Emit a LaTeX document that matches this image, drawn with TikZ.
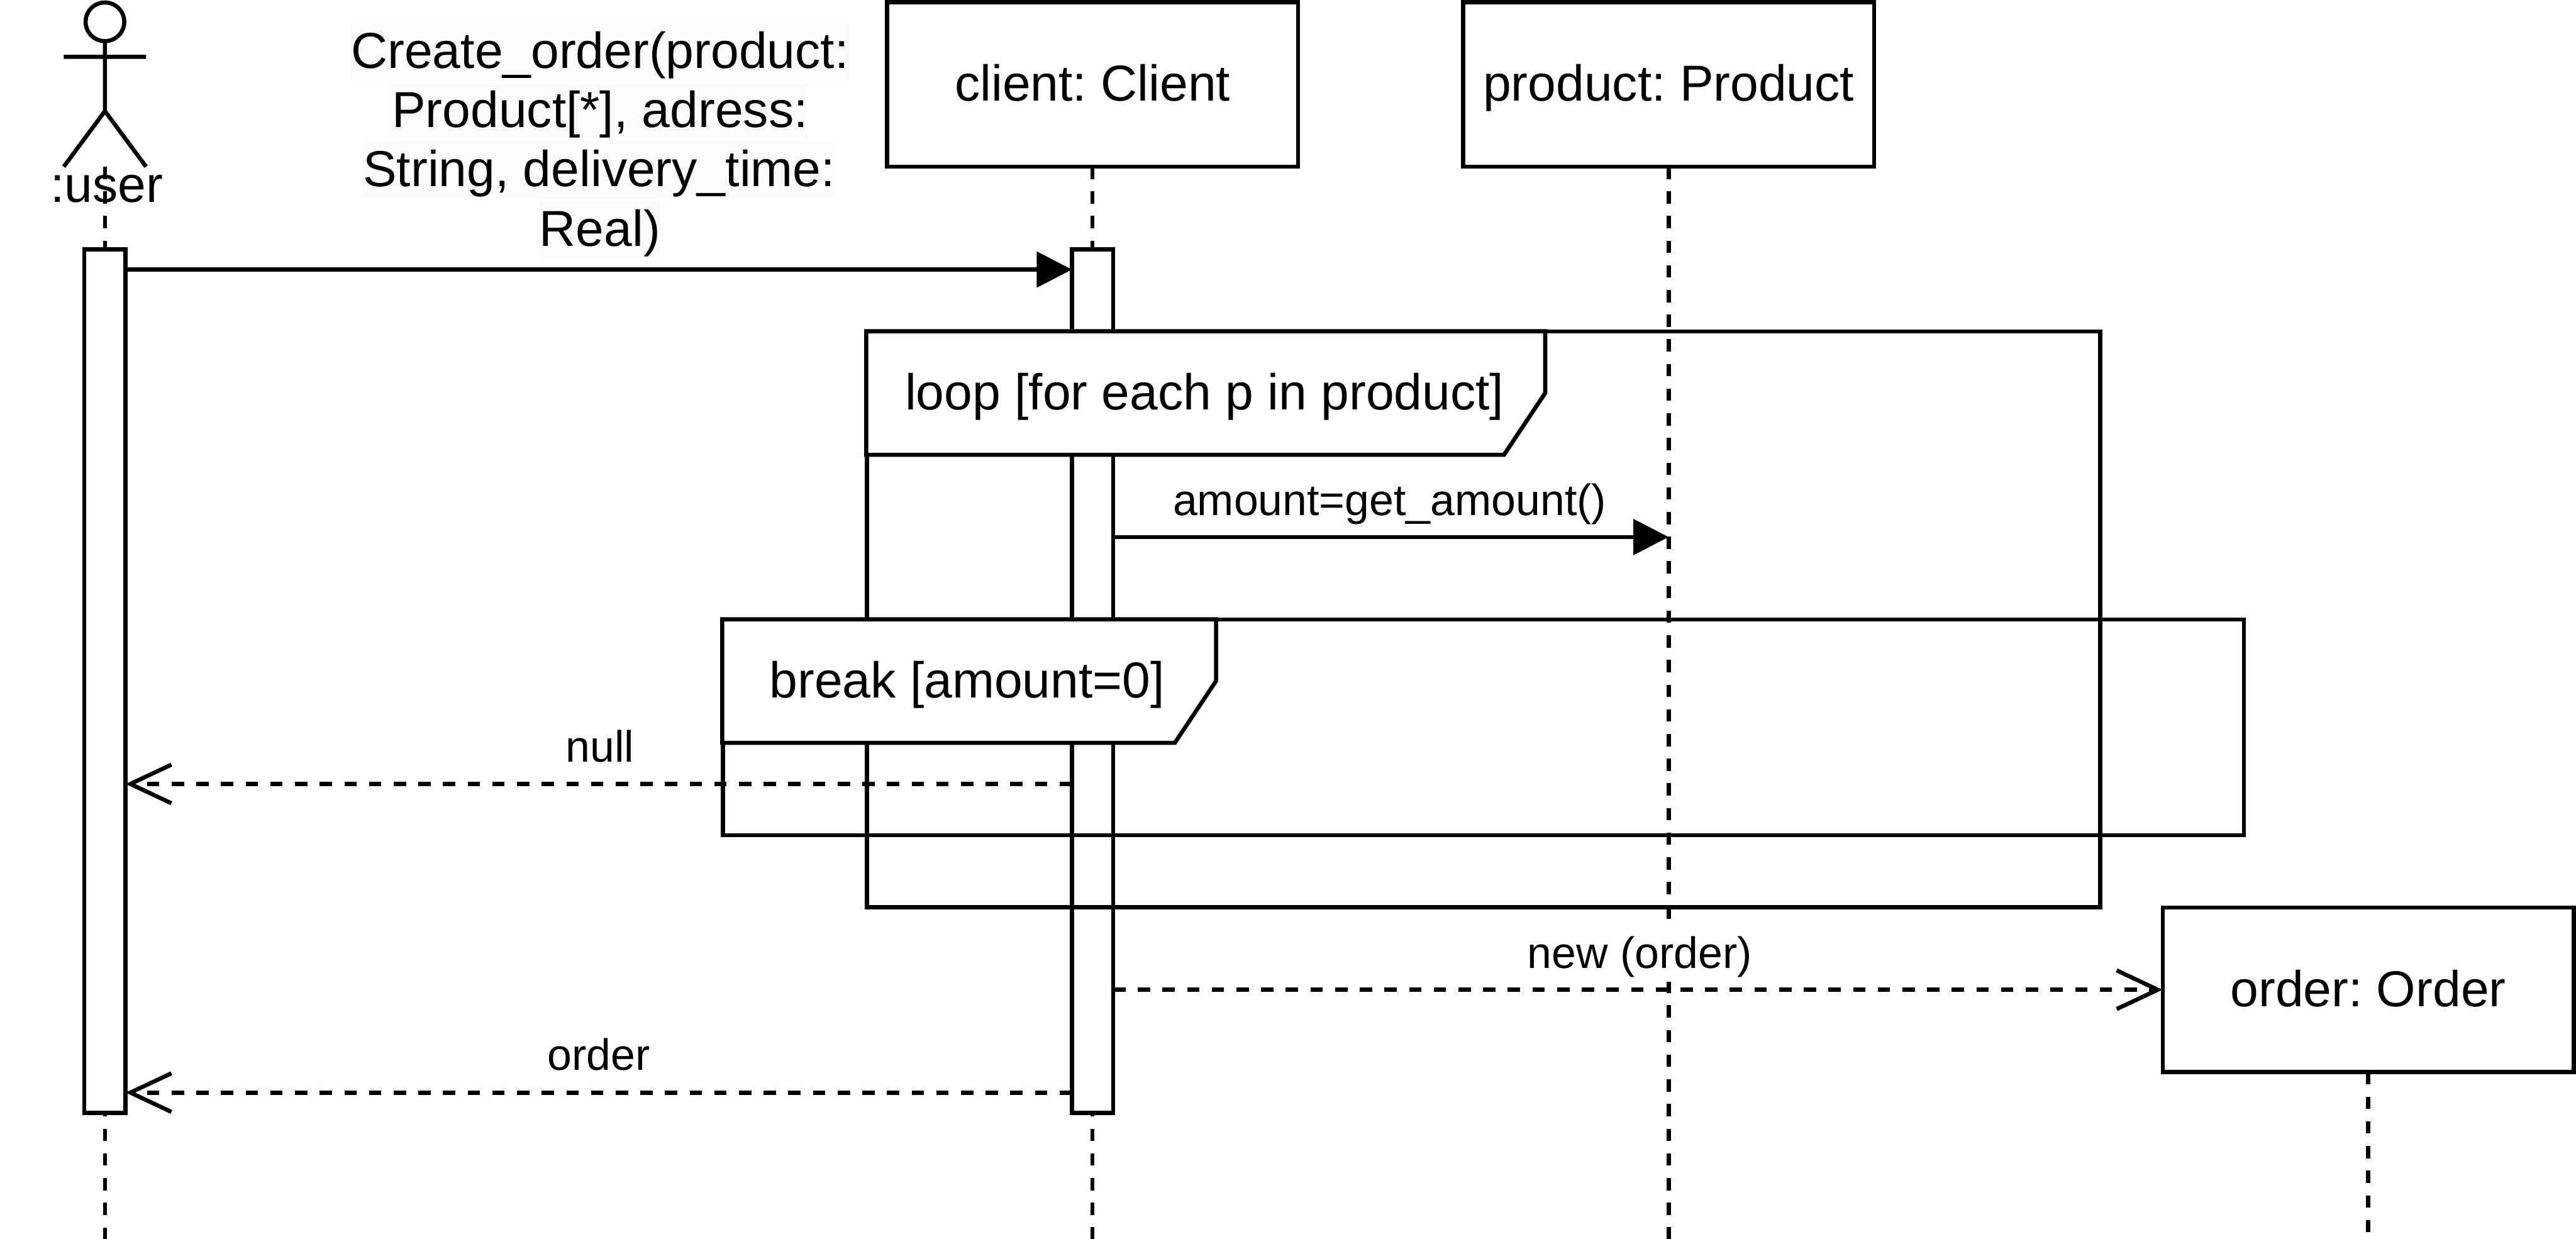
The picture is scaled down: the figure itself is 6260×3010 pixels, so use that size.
\documentclass[tikz,border=0pt]{standalone}
\usepackage{fontspec}
\setmainfont{Liberation Sans}
\frenchspacing
\usetikzlibrary{arrows.meta}
\definecolor{lblbg}{HTML}{FBFBFB}
\tikzset{
  ln/.style={line width=.05cm},
  big/.style={font=\fontsize{17.5}{21}\selectfont,text height=.523cm,text depth=.117cm,inner sep=0pt},
  small/.style={font=\fontsize{15.2}{18}\selectfont,text height=.45cm,text depth=.10cm,inner sep=0pt},
  objbox/.style={big,ln,draw,fill=white,minimum width=5cm,minimum height=2cm,outer sep=0pt},
  bar/.style={ln,draw,fill=white,minimum width=.5cm,minimum height=10.5cm,outer sep=0pt},
  life/.style={ln,dash pattern=on .15cm off .15cm},
  msg/.style={ln,-{Triangle[length=.43cm,width=.43cm]}},
  ret/.style={ln,dash pattern=on .15cm off .15cm,-{Straight Barb[length=.5cm,width=.47cm]}},
  callbg/.style={big,fill=lblbg,minimum height=.695cm}
}

\begin{document}
\begin{tikzpicture}[x=.005cm,y=-.005cm]
        \useasboundingbox (0,0) rectangle (6260,3010);
        \node[objbox] (cli) at (2655,205) {client: Client};
        \node[objbox] (prd) at (4055,205) {product: Product};
        \node[objbox] (ord) at (5755,2405) {order: Order};
        \node[circle,ln,draw,minimum size=.47cm,inner sep=0pt,outer sep=0pt] (head) at (255,53) {};
        \coordinate (hip) at (255,270);
        \coordinate (lfoot) at (155,405);
        \coordinate (rfoot) at (355,405);
        \coordinate (larm) at (155,138);
        \coordinate (rarm) at (355,138);
        \coordinate (feet) at (255,405);
        \draw[ln] (head.south) -- (hip) (larm) -- (rarm) (lfoot) -- (hip) -- (rfoot);
        \node[big] (usr) at (259,451) {:user};
        \coordinate (uend) at (255,3010);
        \coordinate (cend) at (2655,3010);
        \coordinate (pend) at (4055,3010);
        \coordinate (oend) at (5755,3010);
        \draw[life] (feet) -- (uend);
        \draw[life] (cli.south) -- (cend);
        \draw[life] (prd.south) -- (pend);
        \draw[life] (ord.south) -- (oend);
        \node[bar] (ubar) at (255,1655) {};
        \node[bar] (cbar) at (2655,1655) {};
        \node[ln,draw,minimum width=15cm,minimum height=7cm,outer sep=0pt] (loopfr) at (3605,1505) {};
        \draw[ln,fill=white] (2105,805) -- (3755,805) -- (3755,955) -- (3655,1105) -- (2105,1105) -- cycle;
        \node[big] (looplbl) at (2927,955) {loop [for each p in product]};
        \node[ln,draw,minimum width=18.5cm,minimum height=2.625cm,outer sep=0pt] (brkfr) at (3605,1767.5) {};
        \draw[ln,fill=white] (1755,1505) -- (2955,1505) -- (2955,1655) -- (2855,1805) -- (1755,1805) -- cycle;
        \node[big] (brklbl) at (2350,1655) {break [amount=0]};
        \node[callbg] (call1) at (1458,125) {Create\_order(product:};
        \node[callbg] (call2) at (1458,269) {Product[*], adress:};
        \node[callbg] (call3) at (1456,413) {String, delivery\_time:};
        \node[callbg] (call4) at (1458,557) {Real)};
        \coordinate (y1) at (0,655);
        \coordinate (y2) at (0,1305);
        \coordinate (y3) at (0,1905);
        \coordinate (y4) at (0,2655);
        \draw[msg] (ubar.east |- y1) -- (cbar.west |- y1);
        \draw[msg] (cbar.east |- y2) -- (prd.south |- y2);
        \draw[ret] (cbar.west |- y3) -- (ubar.east |- y3);
        \draw[ret] (cbar.east |- ord.west) -- (ord.west);
        \draw[ret] (cbar.west |- y4) -- (ubar.east |- y4);
        \node[small] (amt) at (3377,1218) {amount=get\_amount()};
        \node[small] (nul) at (1458,1817) {null};
        \node[small,fill=white,text height=.59cm,text depth=.16cm] (neworder) at (3985,2310) {new (order)};
        \node[small] (ordret) at (1455,2565) {order};
      \end{tikzpicture}
\end{document}
